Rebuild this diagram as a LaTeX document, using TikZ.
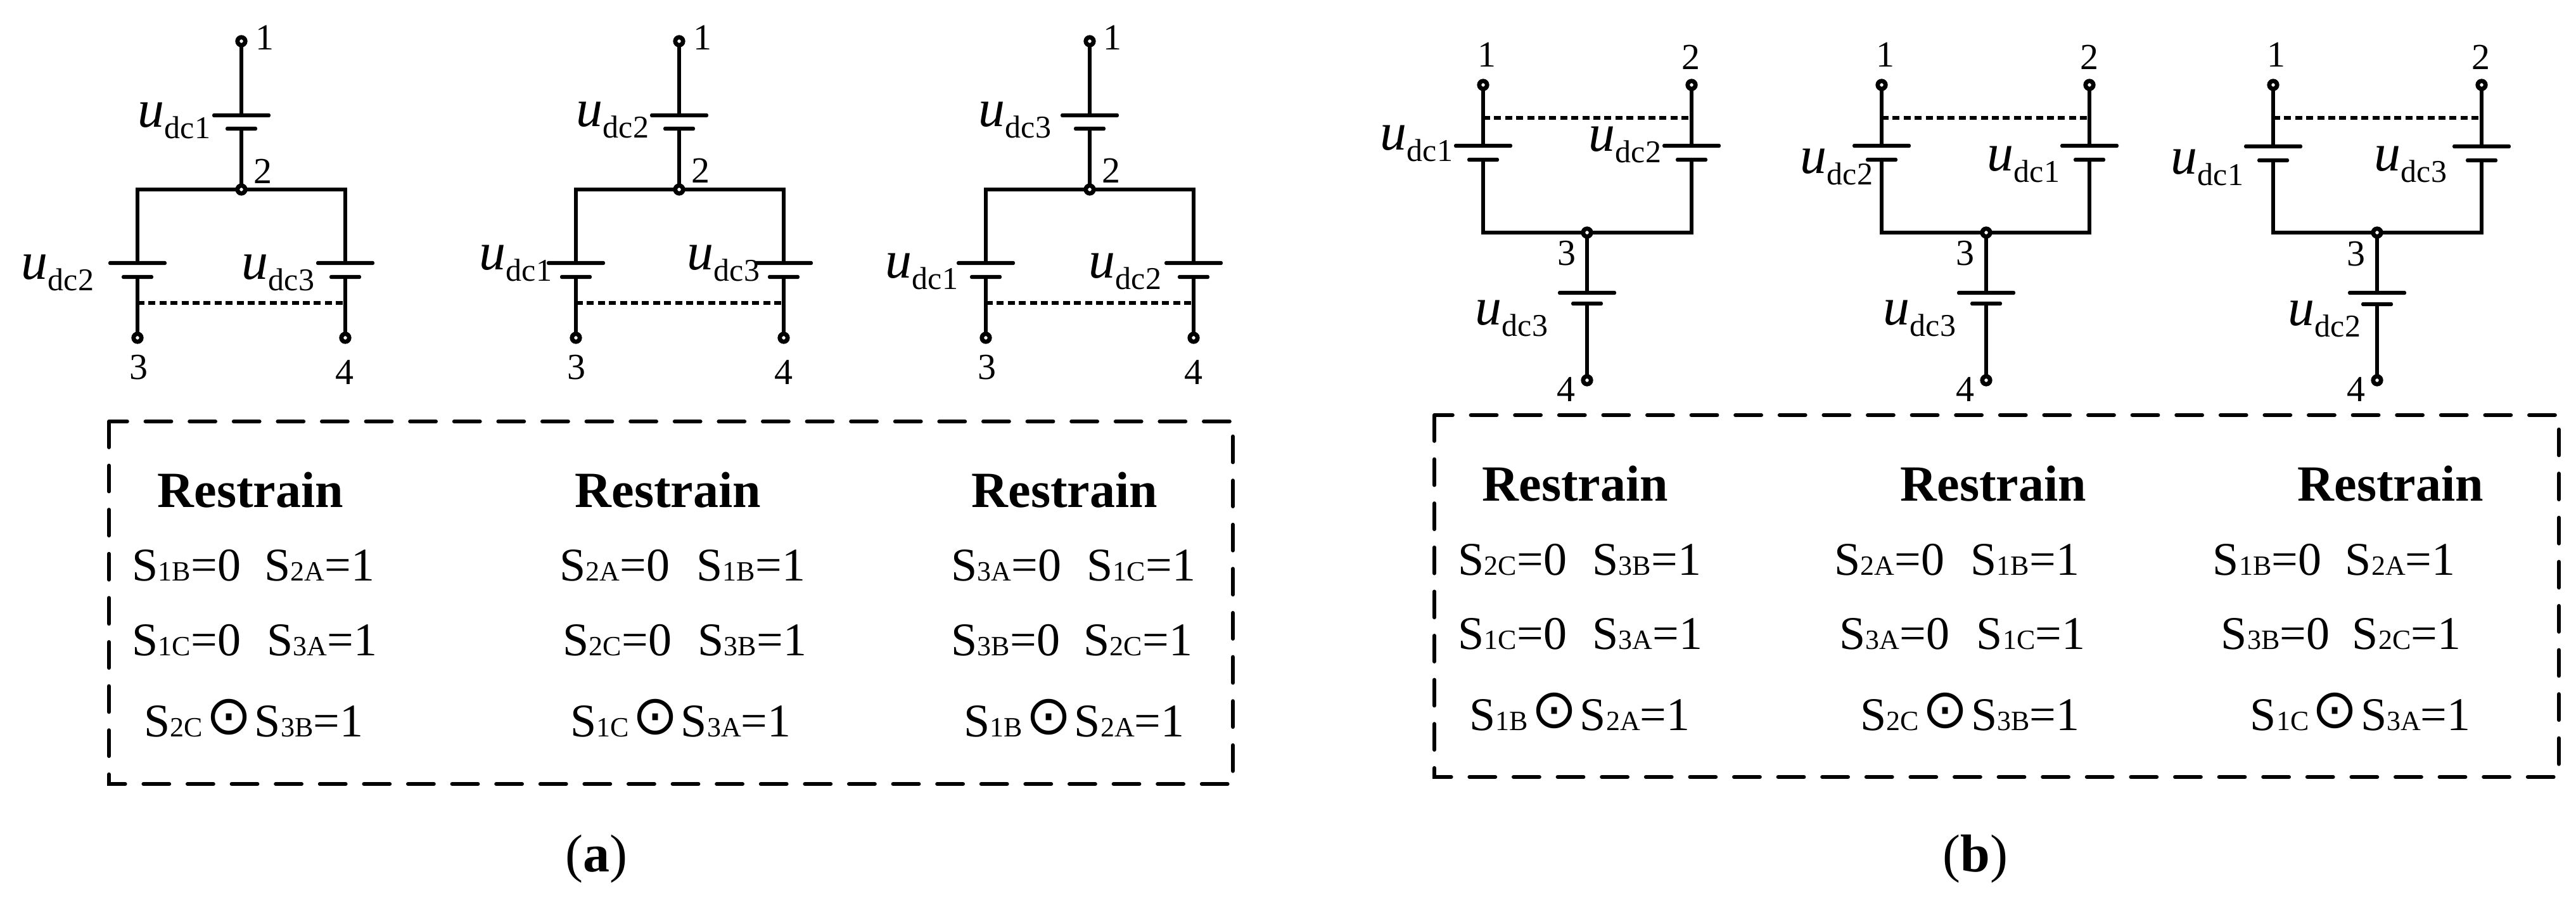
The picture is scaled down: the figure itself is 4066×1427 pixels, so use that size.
\documentclass[tikz,border=0pt]{standalone}
\usepackage{fontspec}
\usepackage{tikz}
\setmainfont{Liberation Serif}
\newfontfamily\dotfont{DejaVu Sans}
\newcommand{\udc}[1]{\textit{u}\raisebox{-4.5pt}{\fontsize{12.5}{12.5}\selectfont dc#1}}
\newcommand{\swt}[1]{S{\fontsize{11}{11}\selectfont #1}}
\newcommand{\odt}{\hspace{1.2pt}\raisebox{0.8pt}{\dotfont\fontsize{21.5}{21.5}\selectfont ⊙}\hspace{1.2pt}}

\begin{document}
\begin{tikzpicture}[x=0.25pt,y=-0.25pt,
    wire/.style={line width=1.5pt,line cap=round},
    linkdot/.style={line width=1.5pt,dash pattern=on 2.75pt off 1.6pt},
    frame/.style={line width=1.5pt,line cap=round,dash pattern=on 10.2pt off 7.2pt},
    term/.style={circle,draw,fill=white,line width=1.7pt,minimum size=3.1pt,inner sep=0pt,outer sep=0pt},
    platelong/.style={rectangle,fill=black,rounded corners=0.7pt,minimum width=23pt,minimum height=1.6pt,inner sep=0pt,outer sep=0pt},
    plateshort/.style={rectangle,fill=black,rounded corners=0.7pt,minimum width=12.5pt,minimum height=1.6pt,inner sep=0pt,outer sep=0pt},
    numlabel/.style={anchor=base west,inner sep=0pt,font=\fontsize{14.5}{14.5}\selectfont},
    ulabel/.style={anchor=base west,inner sep=0pt,font=\fontsize{21}{21}\selectfont},
    tabhead/.style={anchor=base west,inner sep=0pt,font=\fontsize{20}{20}\selectfont\bfseries},
    tabrow/.style={anchor=base west,inner sep=0pt,font=\fontsize{18.5}{18.5}\selectfont},
    figcap/.style={anchor=base,inner sep=0pt,font=\fontsize{21}{21}\selectfont}]
    \useasboundingbox (0,0) rectangle (4066,1427);
    % panel a, first circuit
    \node[term] (a1t) at ( 381,  65) {};
    \node[platelong]  (a1p) at ( 381, 182) {};
    \node[plateshort] (a1q) at ( 381, 203) {};
    \node[term] (a1j) at ( 381, 299) {};
    \node[platelong]  (a1lp) at ( 217, 415) {};
    \node[plateshort] (a1lq) at ( 217, 437) {};
    \node[platelong]  (a1rp) at ( 545, 415) {};
    \node[plateshort] (a1rq) at ( 545, 437) {};
    \node[term] (a1b) at ( 217, 533) {};
    \node[term] (a1c) at ( 545, 533) {};
    \coordinate (a1dl) at ( 217, 478);
    \coordinate (a1dr) at ( 545, 478);
    \draw[wire] (a1t) -- (a1p);
    \draw[wire] (a1q) -- (a1j);
    \draw[wire] (a1j) -| (a1lp);
    \draw[wire] (a1j) -| (a1rp);
    \draw[wire] (a1lq) -- (a1b);
    \draw[wire] (a1rq) -- (a1c);
    \draw[linkdot] (a1dl) -- (a1dr);
    \node[ulabel] (a1u1) at ( 217, 200) {\udc{1}};
    \node[ulabel] (a1u2) at (  33, 440) {\udc{2}};
    \node[ulabel] (a1u3) at ( 381, 440) {\udc{3}};
    \node[numlabel] (a1n1) at ( 403,  78) {1};
    \node[numlabel] (a1n2) at ( 400, 289) {2};
    \node[numlabel] (a1n3) at ( 204, 598) {3};
    \node[numlabel] (a1n4) at ( 529, 606) {4};
    % panel a, second circuit
    \node[term] (a2t) at (1072,  65) {};
    \node[platelong]  (a2p) at (1072, 182) {};
    \node[plateshort] (a2q) at (1072, 203) {};
    \node[term] (a2j) at (1072, 299) {};
    \node[platelong]  (a2lp) at ( 909, 415) {};
    \node[plateshort] (a2lq) at ( 909, 437) {};
    \node[platelong]  (a2rp) at (1237, 415) {};
    \node[plateshort] (a2rq) at (1237, 437) {};
    \node[term] (a2b) at ( 909, 533) {};
    \node[term] (a2c) at (1237, 533) {};
    \coordinate (a2dl) at ( 909, 478);
    \coordinate (a2dr) at (1237, 478);
    \draw[wire] (a2t) -- (a2p);
    \draw[wire] (a2q) -- (a2j);
    \draw[wire] (a2j) -| (a2lp);
    \draw[wire] (a2j) -| (a2rp);
    \draw[wire] (a2lq) -- (a2b);
    \draw[wire] (a2rq) -- (a2c);
    \draw[linkdot] (a2dl) -- (a2dr);
    \node[ulabel] (a2u1) at ( 909, 199) {\udc{2}};
    \node[ulabel] (a2u2) at ( 756, 425) {\udc{1}};
    \node[ulabel] (a2u3) at (1084, 425) {\udc{3}};
    \node[numlabel] (a2n1) at (1094,  78) {1};
    \node[numlabel] (a2n2) at (1091, 288) {2};
    \node[numlabel] (a2n3) at ( 895, 598) {3};
    \node[numlabel] (a2n4) at (1222, 606) {4};
    % panel a, third circuit
    \node[term] (a3t) at (1720,  65) {};
    \node[platelong]  (a3p) at (1720, 182) {};
    \node[plateshort] (a3q) at (1720, 203) {};
    \node[term] (a3j) at (1720, 299) {};
    \node[platelong]  (a3lp) at (1556, 415) {};
    \node[plateshort] (a3lq) at (1556, 437) {};
    \node[platelong]  (a3rp) at (1884, 415) {};
    \node[plateshort] (a3rq) at (1884, 437) {};
    \node[term] (a3b) at (1556, 533) {};
    \node[term] (a3c) at (1884, 533) {};
    \coordinate (a3dl) at (1556, 478);
    \coordinate (a3dr) at (1884, 478);
    \draw[wire] (a3t) -- (a3p);
    \draw[wire] (a3q) -- (a3j);
    \draw[wire] (a3j) -| (a3lp);
    \draw[wire] (a3j) -| (a3rp);
    \draw[wire] (a3lq) -- (a3b);
    \draw[wire] (a3rq) -- (a3c);
    \draw[linkdot] (a3dl) -- (a3dr);
    \node[ulabel] (a3u1) at (1544, 199) {\udc{3}};
    \node[ulabel] (a3u2) at (1397, 438) {\udc{1}};
    \node[ulabel] (a3u3) at (1718, 438) {\udc{2}};
    \node[numlabel] (a3n1) at (1741,  78) {1};
    \node[numlabel] (a3n2) at (1739, 288) {2};
    \node[numlabel] (a3n3) at (1543, 598) {3};
    \node[numlabel] (a3n4) at (1869, 606) {4};
    % panel b, first circuit
    \node[term] (b1s) at (2341, 134) {};
    \node[term] (b1t) at (2670, 134) {};
    \node[platelong]  (b1lp) at (2341, 230) {};
    \node[plateshort] (b1lq) at (2341, 252) {};
    \node[platelong]  (b1rp) at (2670, 230) {};
    \node[plateshort] (b1rq) at (2670, 252) {};
    \node[term] (b1j) at (2505, 367) {};
    \node[platelong]  (b1p) at (2505, 462) {};
    \node[plateshort] (b1q) at (2505, 479) {};
    \node[term] (b1b) at (2505, 600) {};
    \coordinate (b1dl) at (2341, 186);
    \coordinate (b1dr) at (2670, 186);
    \draw[wire] (b1s) -- (b1lp);
    \draw[wire] (b1t) -- (b1rp);
    \draw[wire] (b1j) -| (b1lq);
    \draw[wire] (b1j) -| (b1rq);
    \draw[wire] (b1j) -- (b1p);
    \draw[wire] (b1q) -- (b1b);
    \draw[linkdot] (b1dl) -- (b1dr);
    \node[ulabel] (b1u1) at (2178, 236) {\udc{1}};
    \node[ulabel] (b1u2) at (2507, 238) {\udc{2}};
    \node[ulabel] (b1u3) at (2328, 512) {\udc{3}};
    \node[numlabel] (b1n1) at (2332, 105) {1};
    \node[numlabel] (b1n2) at (2654, 109) {2};
    \node[numlabel] (b1n3) at (2458, 418) {3};
    \node[numlabel] (b1n4) at (2457, 633) {4};
    % panel b, second circuit
    \node[term] (b2s) at (2970, 134) {};
    \node[term] (b2t) at (3298, 134) {};
    \node[platelong]  (b2lp) at (2970, 230) {};
    \node[plateshort] (b2lq) at (2970, 252) {};
    \node[platelong]  (b2rp) at (3298, 230) {};
    \node[plateshort] (b2rq) at (3298, 252) {};
    \node[term] (b2j) at (3135, 367) {};
    \node[platelong]  (b2p) at (3135, 462) {};
    \node[plateshort] (b2q) at (3135, 479) {};
    \node[term] (b2b) at (3135, 600) {};
    \coordinate (b2dl) at (2970, 186);
    \coordinate (b2dr) at (3298, 186);
    \draw[wire] (b2s) -- (b2lp);
    \draw[wire] (b2t) -- (b2rp);
    \draw[wire] (b2j) -| (b2lq);
    \draw[wire] (b2j) -| (b2rq);
    \draw[wire] (b2j) -- (b2p);
    \draw[wire] (b2q) -- (b2b);
    \draw[linkdot] (b2dl) -- (b2dr);
    \node[ulabel] (b2u1) at (2841, 273) {\udc{2}};
    \node[ulabel] (b2u2) at (3136, 269) {\udc{1}};
    \node[ulabel] (b2u3) at (2972, 512) {\udc{3}};
    \node[numlabel] (b2n1) at (2961, 105) {1};
    \node[numlabel] (b2n2) at (3283, 109) {2};
    \node[numlabel] (b2n3) at (3087, 418) {3};
    \node[numlabel] (b2n4) at (3087, 633) {4};
    % panel b, third circuit
    \node[term] (b3s) at (3588, 134) {};
    \node[term] (b3t) at (3917, 134) {};
    \node[platelong]  (b3lp) at (3588, 231) {};
    \node[plateshort] (b3lq) at (3588, 253) {};
    \node[platelong]  (b3rp) at (3917, 231) {};
    \node[plateshort] (b3rq) at (3917, 253) {};
    \node[term] (b3j) at (3752, 367) {};
    \node[platelong]  (b3p) at (3752, 462) {};
    \node[plateshort] (b3q) at (3752, 480) {};
    \node[term] (b3b) at (3752, 600) {};
    \coordinate (b3dl) at (3588, 186);
    \coordinate (b3dr) at (3917, 186);
    \draw[wire] (b3s) -- (b3lp);
    \draw[wire] (b3t) -- (b3rp);
    \draw[wire] (b3j) -| (b3lq);
    \draw[wire] (b3j) -| (b3rq);
    \draw[wire] (b3j) -- (b3p);
    \draw[wire] (b3q) -- (b3b);
    \draw[linkdot] (b3dl) -- (b3dr);
    \node[ulabel] (b3u1) at (3426, 274) {\udc{1}};
    \node[ulabel] (b3u2) at (3747, 269) {\udc{3}};
    \node[ulabel] (b3u3) at (3611, 513) {\udc{2}};
    \node[numlabel] (b3n1) at (3578, 105) {1};
    \node[numlabel] (b3n2) at (3901, 109) {2};
    \node[numlabel] (b3n3) at (3704, 419) {3};
    \node[numlabel] (b3n4) at (3704, 633) {4};
    % dashed frames
    \draw[frame] ( 172, 665) rectangle (1946,1237);
    \draw[frame] (2264, 655) rectangle (4039,1226);
    % table of panel a
    \node[tabhead] (ah1) at ( 248, 800) {Restrain};
    \node[tabhead] (ah2) at ( 907, 800) {Restrain};
    \node[tabhead] (ah3) at (1533, 800) {Restrain};
    \node[tabrow] (a11) at ( 208, 916) {\swt{1B}=0};
    \node[tabrow] (a12) at ( 417, 916) {\swt{2A}=1};
    \node[tabrow] (a13) at ( 208,1034) {\swt{1C}=0};
    \node[tabrow] (a14) at ( 421,1034) {\swt{3A}=1};
    \node[tabrow] (a15) at ( 227,1162) {\swt{2C}\odt\swt{3B}=1};
    \node[tabrow] (a21) at ( 883, 916) {\swt{2A}=0};
    \node[tabrow] (a22) at (1099, 916) {\swt{1B}=1};
    \node[tabrow] (a23) at ( 888,1034) {\swt{2C}=0};
    \node[tabrow] (a24) at (1101,1034) {\swt{3B}=1};
    \node[tabrow] (a25) at ( 900,1162) {\swt{1C}\odt\swt{3A}=1};
    \node[tabrow] (a31) at (1501, 916) {\swt{3A}=0};
    \node[tabrow] (a32) at (1715, 916) {\swt{1C}=1};
    \node[tabrow] (a33) at (1501,1034) {\swt{3B}=0};
    \node[tabrow] (a34) at (1710,1034) {\swt{2C}=1};
    \node[tabrow] (a35) at (1521,1162) {\swt{1B}\odt\swt{2A}=1};
    % table of panel b
    \node[tabhead] (bh1) at (2339, 790) {Restrain};
    \node[tabhead] (bh2) at (2999, 790) {Restrain};
    \node[tabhead] (bh3) at (3626, 790) {Restrain};
    \node[tabrow] (b11) at (2301, 907) {\swt{2C}=0};
    \node[tabrow] (b12) at (2513, 907) {\swt{3B}=1};
    \node[tabrow] (b13) at (2301,1024) {\swt{1C}=0};
    \node[tabrow] (b14) at (2513,1024) {\swt{3A}=1};
    \node[tabrow] (b15) at (2319,1152) {\swt{1B}\odt\swt{2A}=1};
    \node[tabrow] (b21) at (2895, 907) {\swt{2A}=0};
    \node[tabrow] (b22) at (3110, 907) {\swt{1B}=1};
    \node[tabrow] (b23) at (2903,1024) {\swt{3A}=0};
    \node[tabrow] (b24) at (3119,1024) {\swt{1C}=1};
    \node[tabrow] (b25) at (2936,1152) {\swt{2C}\odt\swt{3B}=1};
    \node[tabrow] (b31) at (3492, 907) {\swt{1B}=0};
    \node[tabrow] (b32) at (3701, 907) {\swt{2A}=1};
    \node[tabrow] (b33) at (3505,1024) {\swt{3B}=0};
    \node[tabrow] (b34) at (3712,1024) {\swt{2C}=1};
    \node[tabrow] (b35) at (3551,1152) {\swt{1C}\odt\swt{3A}=1};
    % captions
    \node[figcap] (capa) at ( 941,1375) {(\textbf{a})};
    \node[figcap] (capb) at (3118,1375) {(\textbf{b})};
\end{tikzpicture}
\end{document}
